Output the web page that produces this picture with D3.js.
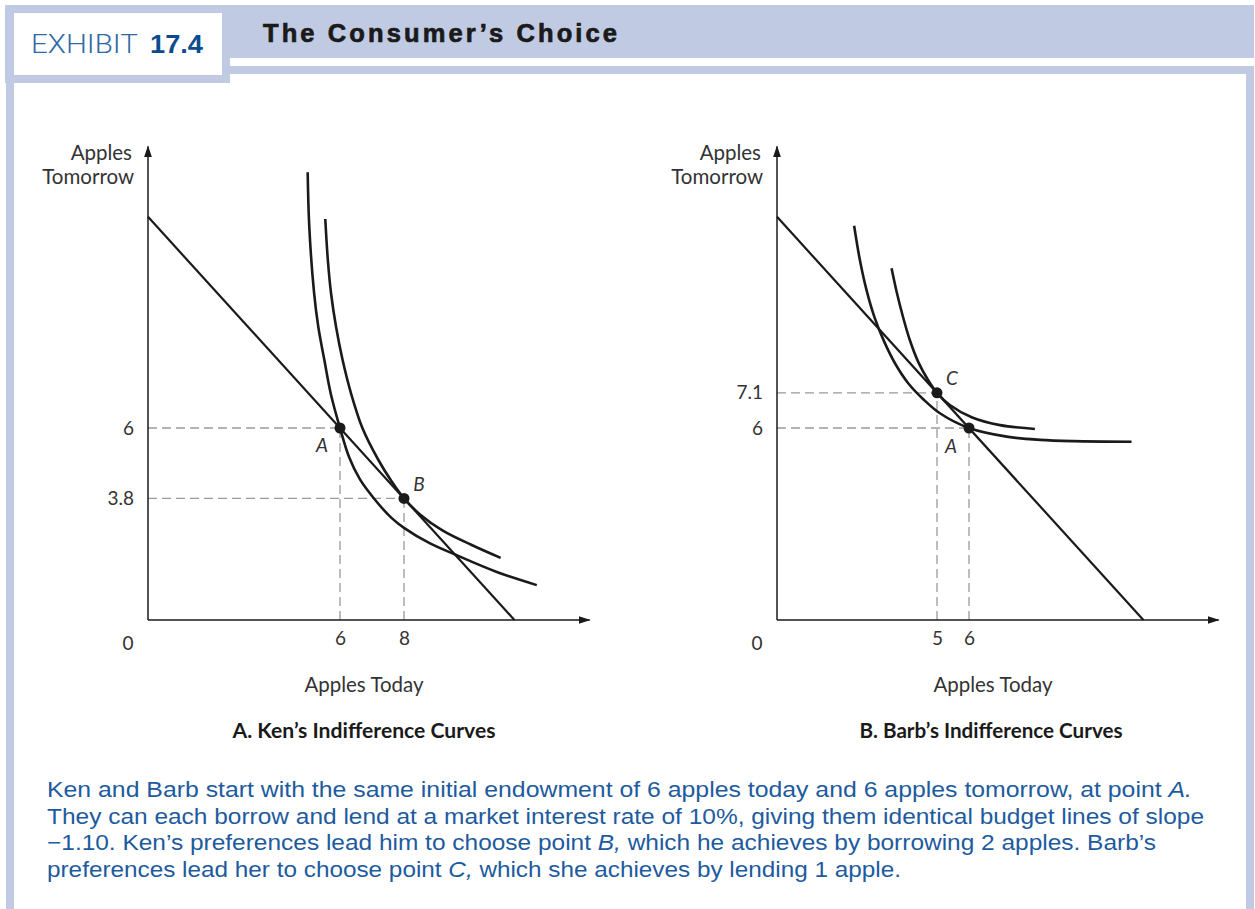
<!DOCTYPE html>
<html>
<head>
<meta charset="utf-8">
<script src="https://cdn.jsdelivr.net/npm/d3@7/dist/d3.min.js"></script>
<style>
  html, body { margin: 0; padding: 0; background: #ffffff; }
  svg { display: block; }
</style>
</head>
<body>
<svg id="chart" width="1255" height="909"></svg>
<script>
// ---------------- DATA ----------------
const exhibitLabel = "EXHIBIT";
const exhibitNumber = "17.4";
const exhibitTitle = "The Consumer\u2019s Choice";

const yAxisLabel = ["Apples", "Tomorrow"];
const xAxisLabel = "Apples Today";
const panelTitles = ["A.  Ken\u2019s Indifference Curves", "B.  Barb\u2019s Indifference Curves"];

// budget line (slope -1.10 through endowment (6,6))
const budgetLine = [[0, 12.6], [11.45, 0]];

// Panel A – Ken
const kenXTicks = [6, 8];
const kenYTicks = [6, 3.8];
const kenYTickLabels = ["6", "3.8"];
const kenCurveLow = [[4.99, 13.99], [5.04, 12.29], [5.19, 10.22], [5.32, 9.17], [5.51, 8.13], [5.71, 7.08],
  [6.0, 6.0], [6.28, 5.1], [6.62, 4.4], [7.1, 3.75], [7.6, 3.2], [8.0, 2.88], [8.8, 2.4], [9.63, 2.03],
  [10.9, 1.5], [12.15, 1.09]];
const kenCurveHigh = [[5.54, 12.53], [5.62, 11.25], [5.72, 10.21], [5.875, 9.17], [6.08, 8.13], [6.34, 7.1],
  [6.7, 6.0], [7.2, 5.0], [7.6, 4.35], [8.0, 3.8], [8.5, 3.3], [9.2, 2.8], [10.1, 2.35], [11.02, 1.94]];
const kenPoints = [{ name: "A", x: 6, y: 6 }, { name: "B", x: 8, y: 3.8 }];

// Panel B – Barb
const barbXTicks = [5, 6];
const barbYTicks = [7.1, 6];
const barbYTickLabels = ["7.1", "6"];
const barbCurveLow = [[2.41, 12.32], [2.59, 11.25], [2.8, 10.3], [3.05, 9.45], [3.35, 8.7], [3.7, 8.0],
  [4.1, 7.4], [4.57, 6.9], [5.09, 6.46], [6.0, 6.0], [7.18, 5.73], [8.22, 5.63], [9.26, 5.59], [11.08, 5.57]];
const barbCurveHigh = [[3.58, 10.99], [3.74, 10.25], [3.93, 9.5], [4.15, 8.75], [4.42, 8.05], [4.72, 7.5],
  [5.0, 7.1], [5.4, 6.72], [6.1, 6.33], [6.97, 6.09], [8.06, 5.97]];
const barbPoints = [{ name: "C", x: 5, y: 7.1 }, { name: "A", x: 6, y: 6 }];

const captionLines = [
  [["Ken and Barb start with the same initial endowment of 6 apples today and 6 apples tomorrow, at point ", false], ["A.", true]],
  [["They can each borrow and lend at a market interest rate of 10%, giving them identical budget lines of slope", false]],
  [["\u22121.10. Ken\u2019s preferences lead him to choose point ", false], ["B,", true], [" which he achieves by borrowing 2 apples. Barb\u2019s", false]],
  [["preferences lead her to choose point ", false], ["C,", true], [" which she achieves by lending 1 apple.", false]]
];
const captionWidths = [1145, 1157, 1109, 854];

// ---------------- DRAW ----------------
const svg = d3.select("#chart");
const frameBlue = "#c0cbe3";
const chartFont = "Lato, 'Open Sans', 'Noto Sans', sans-serif";

// frame
svg.append("rect").attr("x", 5).attr("y", 5).attr("width", 1249).attr("height", 53).attr("fill", frameBlue);
svg.append("rect").attr("x", 5).attr("y", 5).attr("width", 225).attr("height", 78).attr("fill", frameBlue);
svg.append("rect").attr("x", 230).attr("y", 66).attr("width", 1024).attr("height", 8).attr("fill", frameBlue);
svg.append("rect").attr("x", 1246).attr("y", 66).attr("width", 8).attr("height", 843).attr("fill", frameBlue);
svg.append("rect").attr("x", 6).attr("y", 83).attr("width", 8).attr("height", 826).attr("fill", frameBlue);
svg.append("rect").attr("x", 14).attr("y", 13).attr("width", 208).attr("height", 62).attr("fill", "#ffffff");

// header text
svg.append("text").attr("x", 31).attr("y", 53)
  .attr("font-family", "Roboto, 'Liberation Sans', sans-serif").attr("font-weight", 300)
  .attr("font-size", 26).attr("fill", "#2e6aa8")
  .attr("textLength", 107).attr("lengthAdjust", "spacingAndGlyphs").text(exhibitLabel);
svg.append("text").attr("x", 150).attr("y", 53)
  .attr("font-family", "'Liberation Sans', Arial, sans-serif").attr("font-weight", 700)
  .attr("font-size", 26).attr("fill", "#0b4c8f")
  .attr("textLength", 53).attr("lengthAdjust", "spacingAndGlyphs").text(exhibitNumber);

svg.append("text").attr("x", 263).attr("y", 42)
  .attr("font-family", "'Liberation Sans', Arial, sans-serif").attr("font-weight", 700)
  .attr("font-size", 25.5).attr("fill", "#1a1a1a").attr("stroke", "#1a1a1a").attr("stroke-width", 0.7)
  .attr("textLength", 354).attr("lengthAdjust", "spacing")
  .text(exhibitTitle);

// arrow marker
const defs = svg.append("defs");
defs.append("marker").attr("id", "arrow").attr("viewBox", "0 0 12 8")
  .attr("refX", 11).attr("refY", 4).attr("markerWidth", 12).attr("markerHeight", 8)
  .attr("markerUnits", "userSpaceOnUse").attr("orient", "auto")
  .append("path").attr("d", "M0,0 L12,4 L0,8 Z").attr("fill", "#1a1a1a");

function panel(originX, xTicks, yTicks, yTickLabels, curves, points, labelOffsets, titleX) {
  const x = d3.scaleLinear().domain([0, 13.8]).range([originX, originX + 441.6]);
  const y = d3.scaleLinear().domain([0, 14.8]).range([620, 620 - 473.6]);
  const g = svg.append("g");

  // dashed guide lines
  points.forEach(p => {
    g.append("line").attr("x1", x(0)).attr("x2", x(p.x)).attr("y1", y(p.y)).attr("y2", y(p.y))
      .attr("stroke", "#9a9a9a").attr("stroke-width", 1.3).attr("stroke-dasharray", "9,5");
    g.append("line").attr("x1", x(p.x)).attr("x2", x(p.x)).attr("y1", y(0)).attr("y2", y(p.y))
      .attr("stroke", "#9a9a9a").attr("stroke-width", 1.3).attr("stroke-dasharray", "9,5");
  });

  // axes lines with arrows
  g.append("line").attr("x1", x(0)).attr("y1", y(0)).attr("x2", x(13.8)).attr("y2", y(0))
    .attr("stroke", "#1a1a1a").attr("stroke-width", 1.5).attr("marker-end", "url(#arrow)");
  g.append("line").attr("x1", x(0)).attr("y1", y(0)).attr("x2", x(0)).attr("y2", y(14.8))
    .attr("stroke", "#1a1a1a").attr("stroke-width", 1.5).attr("marker-end", "url(#arrow)");

  // tick labels via d3 axes
  const xAx = g.append("g").attr("transform", `translate(0,${y(0)})`)
    .call(d3.axisBottom(x).tickValues(xTicks).tickSize(0).tickPadding(12).tickFormat(d3.format("d")));
  xAx.select(".domain").remove();
  xAx.selectAll("text").attr("font-family", chartFont).attr("font-size", 19).attr("fill", "#333");

  const yAx = g.append("g").attr("transform", `translate(${x(0)},0)`)
    .call(d3.axisLeft(y).tickValues(yTicks).tickSize(0).tickPadding(14)
      .tickFormat((d, i) => yTickLabels[i]));
  yAx.select(".domain").remove();
  yAx.selectAll("text").attr("font-family", chartFont).attr("font-size", 19).attr("fill", "#333");

  // origin label
  g.append("text").attr("x", x(0) - 20).attr("y", y(0) + 30).attr("text-anchor", "middle")
    .attr("font-family", chartFont).attr("font-size", 19).attr("fill", "#333").text("0");

  // axis titles
  const yl = g.append("text").attr("text-anchor", "end").attr("font-family", chartFont)
    .attr("font-size", 20.5).attr("fill", "#333");
  yl.append("tspan").attr("x", x(0) - 16).attr("y", 160).text(yAxisLabel[0]);
  yl.append("tspan").attr("x", x(0) - 14).attr("y", 184).text(yAxisLabel[1]);

  g.append("text").attr("x", titleX).attr("y", 692).attr("text-anchor", "middle")
    .attr("font-family", chartFont).attr("font-size", 20.5).attr("fill", "#333").text(xAxisLabel);

  // budget line
  const line = d3.line().x(d => x(d[0])).y(d => y(d[1]));
  g.append("path").attr("d", line(budgetLine)).attr("fill", "none")
    .attr("stroke", "#1a1a1a").attr("stroke-width", 2.2);

  // indifference curves
  const curve = d3.line().x(d => x(d[0])).y(d => y(d[1])).curve(d3.curveCatmullRom.alpha(0.5));
  curves.forEach(c => {
    g.append("path").attr("d", curve(c)).attr("fill", "none")
      .attr("stroke", "#1a1a1a").attr("stroke-width", 2.6);
  });

  // points
  points.forEach((p, i) => {
    g.append("circle").attr("cx", x(p.x)).attr("cy", y(p.y)).attr("r", 5.5).attr("fill", "#1a1a1a");
    g.append("text").attr("x", x(p.x) + labelOffsets[i][0]).attr("y", y(p.y) + labelOffsets[i][1])
      .attr("font-family", chartFont).attr("font-style", "italic").attr("font-size", 19)
      .attr("fill", "#333").attr("text-anchor", "middle").text(p.name);
  });
  return { x, y };
}

panel(148, kenXTicks, kenYTicks, kenYTickLabels, [kenCurveLow, kenCurveHigh], kenPoints,
  [[-18, 24], [15, -7]], 364);
panel(777, barbXTicks, barbYTicks, barbYTickLabels, [barbCurveLow, barbCurveHigh], barbPoints,
  [[15, -8], [-18, 25]], 993);

// panel titles
[[364, panelTitles[0]], [991, panelTitles[1]]].forEach(([cx, t]) => {
  svg.append("text").attr("x", cx).attr("y", 738).attr("text-anchor", "middle")
    .attr("font-family", chartFont).attr("font-weight", 700).attr("font-size", 20.5)
    .attr("fill", "#1a1a1a").attr("textLength", 263).attr("lengthAdjust", "spacingAndGlyphs").text(t);
});

// caption
captionLines.forEach((parts, i) => {
  const t = svg.append("text").attr("x", 47).attr("y", 797 + i * 26.5)
    .attr("font-family", "'Liberation Sans', Arial, sans-serif").attr("font-size", 21.5)
    .attr("fill", "#1d5b9e").attr("textLength", captionWidths[i]).attr("lengthAdjust", "spacingAndGlyphs");
  parts.forEach(([s, it]) => {
    t.append("tspan").attr("font-style", it ? "italic" : "normal").text(s);
  });
});
</script>
</body>
</html>
